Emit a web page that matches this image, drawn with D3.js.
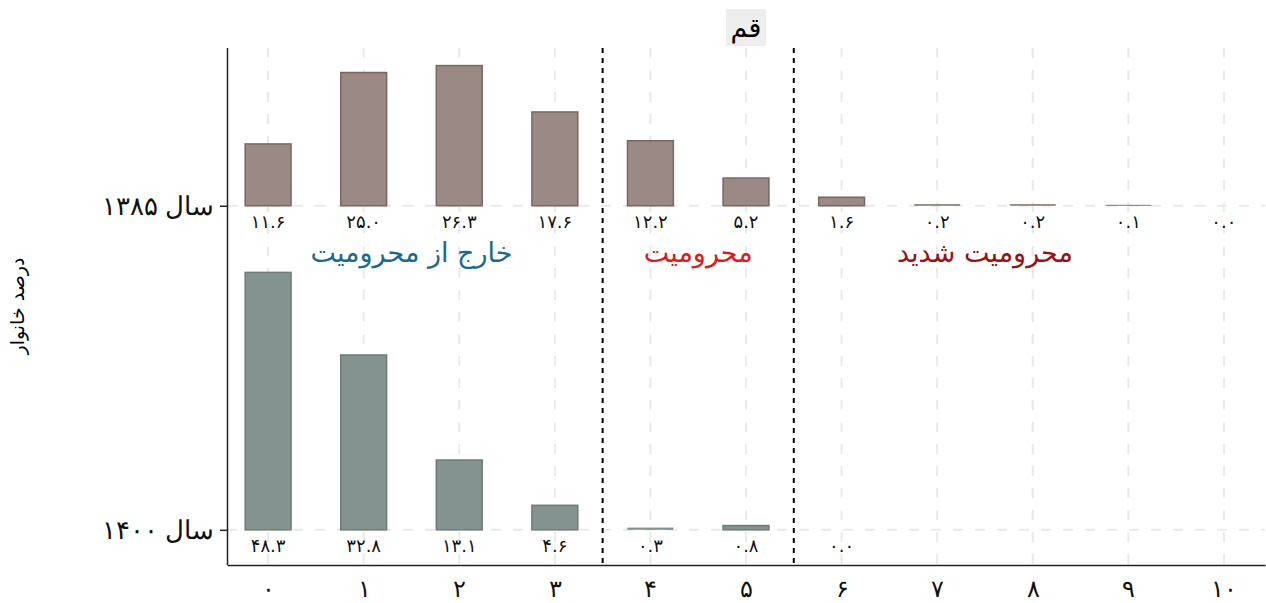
<!DOCTYPE html>
<html>
<head>
<meta charset="utf-8">
<script src="https://cdn.jsdelivr.net/npm/d3@7"></script>
<style>
  body { margin: 0; background: #fff; }
  svg { font-family: "DejaVu Sans", sans-serif; }
</style>
</head>
<body>
<div class="graph"></div>
<script>
// deprivation score 0..10
var categories = [0, 1, 2, 3, 4, 5, 6, 7, 8, 9, 10];
var share1385 = [11.6, 25.0, 26.3, 17.6, 12.2, 5.2, 1.6, 0.2, 0.2, 0.1, 0.0];
var share1400 = [48.3, 32.8, 13.1, 4.6, 0.3, 0.8, 0.0];
var yearLabels = ['سال ۱۳۸۵', 'سال ۱۴۰۰'];
var yearOffsets = [60.8, 0];   // baseline of each year group, in percent units
var groupNames = ['خارج از محرومیت', 'محرومیت', 'محرومیت شدید'];
var groupCenters = [1.5, 4.5, 7.5];
var groupColors = ['#1b6a8c', '#e0191b', '#9b1010'];
var cutLines = [3.5, 5.5];
var title = 'قم';
var yTitle = 'درصد خانوار';

var width = 1266,
    height = 603

var mLeft = 227, mRight = 1265, mTop = 48, mBottom = 565;

var fa = (s) => String(s).replace(/[0-9]/g, (c) => '۰۱۲۳۴۵۶۷۸۹'[+c]);

var svg = d3.select('.graph')
  .append('svg')
  .attr('width', width)
  .attr('height', height);

var xScale = d3.scaleLinear()
  .domain([-0.43, 10.43])
  .range([mLeft, mRight]);

var yScale = d3.scaleLinear()
  .domain([-6.6, 90.4])
  .range([mBottom, mTop]);

// grid
svg.append('g').selectAll('line')
  .data(categories)
  .enter()
  .append('line')
  .attr('x1', (d) => xScale(d))
  .attr('x2', (d) => xScale(d))
  .attr('y1', mTop)
  .attr('y2', mBottom)
  .attr('stroke', '#e9e9e9')
  .attr('stroke-width', 2)
  .attr('stroke-dasharray', '10,12');

svg.append('g').selectAll('line')
  .data(yearOffsets)
  .enter()
  .append('line')
  .attr('x1', mLeft)
  .attr('x2', mRight)
  .attr('y1', (d) => yScale(d))
  .attr('y2', (d) => yScale(d))
  .attr('stroke', '#e9e9e9')
  .attr('stroke-width', 2)
  .attr('stroke-dasharray', '10,12');

var bw = 0.48;

function drawBars(values, offset, fill, stroke) {
  var g = svg.append('g');
  g.selectAll('rect')
    .data(values)
    .enter()
    .append('rect')
    .attr('x', (d, i) => xScale(categories[i] - bw / 2))
    .attr('y', (d) => yScale(offset + d))
    .attr('width', xScale(bw) - xScale(0))
    .attr('height', (d) => yScale(offset) - yScale(offset + d))
    .attr('fill', fill)
    .attr('stroke', stroke)
    .attr('stroke-width', (d) => d > 0.5 ? 1.5 : 0)
    .attr('opacity', (d) => d > 0 ? 1 : 0);
  // thin bars drawn as a line
  g.selectAll('line')
    .data(values)
    .enter()
    .append('line')
    .attr('x1', (d, i) => xScale(categories[i] - bw / 2))
    .attr('x2', (d, i) => xScale(categories[i] + bw / 2))
    .attr('y1', (d) => yScale(offset + d))
    .attr('y2', (d) => yScale(offset + d))
    .attr('stroke', stroke)
    .attr('stroke-opacity', 0.7)
    .attr('stroke-width', (d) => d > 0 && d <= 0.5 ? 1.2 : 0);
  g.selectAll('text')
    .data(values)
    .enter()
    .append('text')
    .attr('x', (d, i) => xScale(categories[i]))
    .attr('y', yScale(offset) + 22)
    .attr('text-anchor', 'middle')
    .style('font-size', '18px')
    .attr('fill', '#111')
    .text((d) => fa(d.toFixed(1)));
}

drawBars(share1385, yearOffsets[0], '#9a8985', '#7a6661');
drawBars(share1400, yearOffsets[1], '#84938f', '#6b7c77');

// cutoff lines
svg.append('g').selectAll('line')
  .data(cutLines)
  .enter()
  .append('line')
  .attr('x1', (d) => xScale(d))
  .attr('x2', (d) => xScale(d))
  .attr('y1', mTop)
  .attr('y2', mBottom)
  .attr('stroke', '#000')
  .attr('stroke-width', 2)
  .attr('stroke-dasharray', '5,5');

// group names
svg.append('g').selectAll('text')
  .data(groupNames)
  .enter()
  .append('text')
  .attr('x', (d, i) => xScale(groupCenters[i]))
  .attr('y', 262)
  .attr('text-anchor', 'middle')
  .style('font-size', '27px')
  .attr('fill', (d, i) => groupColors[i])
  .text((d) => d);

// axes
var xAxis = d3.axisBottom(xScale)
  .tickValues(categories)
  .tickSize(0)
  .tickPadding(15)
  .tickFormat((d) => fa(d));

var xAxisGroup = svg.append('g')
  .attr('transform', 'translate(0,' + mBottom + ')')
  .call(xAxis);
xAxisGroup.select('.domain').attr('stroke', '#222').attr('stroke-width', 1.5);
xAxisGroup.selectAll('text').style('font-size', '24px').attr('fill', '#111');

var yAxis = d3.axisLeft(yScale)
  .tickValues(yearOffsets)
  .tickSize(7)
  .tickPadding(6)
  .tickFormat((d, i) => yearLabels[i]);

var yAxisGroup = svg.append('g')
  .attr('transform', 'translate(' + mLeft + ',0)')
  .call(yAxis);
yAxisGroup.select('.domain').attr('d', 'M0.5,' + mTop + 'V' + mBottom).attr('stroke', '#222').attr('stroke-width', 1.5);
yAxisGroup.selectAll('.tick line').attr('stroke', '#222').attr('stroke-width', 1.5);
yAxisGroup.selectAll('text').style('font-size', '26px').attr('fill', '#111');

// title box
var tx = (mLeft + mRight) / 2;
svg.append('rect')
  .attr('x', tx - 20)
  .attr('y', 9)
  .attr('width', 40)
  .attr('height', 37)
  .attr('fill', '#eeeeee');
svg.append('text')
  .attr('x', tx)
  .attr('y', 37)
  .attr('text-anchor', 'middle')
  .style('font-size', '27px')
  .attr('fill', '#000')
  .text(title);

svg.append('text')
  .text(yTitle)
  .attr('x', -306)
  .attr('y', 24)
  .attr('text-anchor', 'middle')
  .style('font-size', '19px')
  .attr('transform', 'rotate(-90)');
</script>
</body>
</html>
